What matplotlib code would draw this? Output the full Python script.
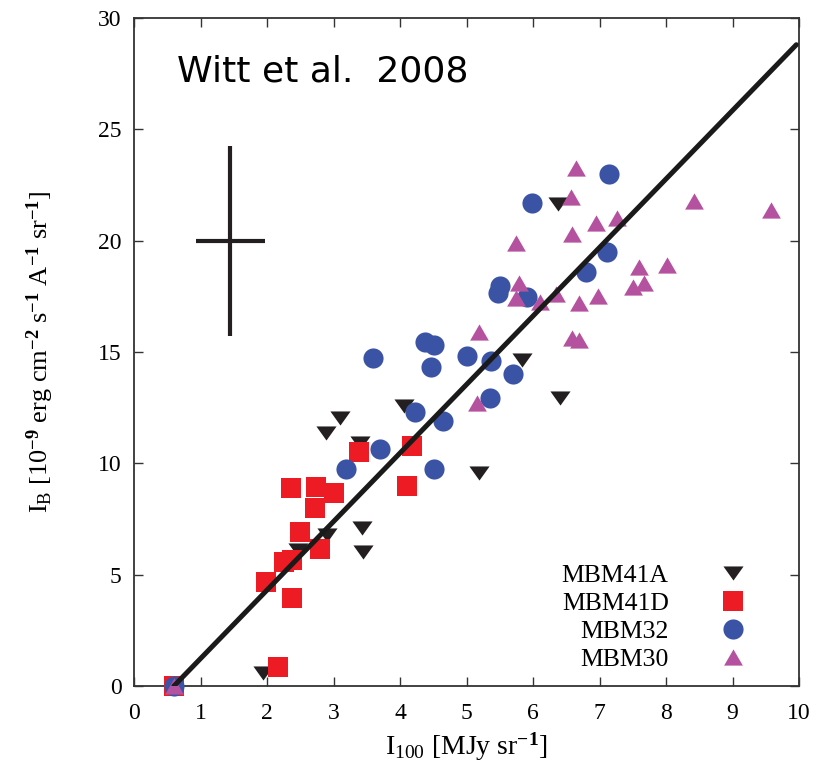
import matplotlib
matplotlib.use("Agg")
import matplotlib.pyplot as plt

# ---- data ----
mbm41a_x = [1.94, 2.47, 2.88, 2.90, 3.10, 3.40, 3.43, 3.45, 4.06, 5.19, 5.84, 6.40, 6.37]
mbm41a_y = [0.57, 6.10, 11.35, 6.78, 12.02, 10.90, 7.10, 6.00, 12.58, 9.58, 14.65, 12.92, 21.63]

mbm41d_x = [0.60, 1.98, 2.16, 2.25, 2.38, 2.38, 2.36, 2.49, 2.73, 2.72, 3.00, 2.80, 3.39, 4.11, 4.18]
mbm41d_y = [0.00, 4.66, 0.84, 5.58, 5.66, 3.94, 8.88, 6.93, 8.92, 8.00, 8.65, 6.14, 10.49, 8.97, 10.80]

mbm32_x = [0.60, 3.19, 3.59, 3.70, 4.22, 4.38, 4.51, 4.46, 4.51, 4.64, 5.01, 5.36, 5.37,
           5.70, 5.47, 5.50, 5.91, 5.98, 6.80, 7.11, 7.14]
mbm32_y = [0.00, 9.73, 14.71, 10.63, 12.32, 15.46, 15.31, 14.31, 9.73, 11.91, 14.82, 12.92, 14.59,
           14.01, 17.66, 17.96, 17.48, 21.70, 18.60, 19.50, 23.00]

mbm30_x = [0.60, 5.16, 5.19, 5.74, 5.79, 5.75, 6.11, 6.34, 6.57, 6.64, 6.59, 6.59, 6.69, 6.69,
           6.94, 6.98, 7.27, 7.50, 7.59, 7.67, 8.01, 8.42, 9.58]
mbm30_y = [0.00, 12.72, 15.91, 19.90, 18.10, 17.43, 17.26, 17.59, 21.97, 23.27, 20.30, 15.61, 15.52, 17.20,
           20.78, 17.51, 21.04, 17.92, 18.80, 18.08, 18.90, 21.79, 21.37]

fit_x = [0.60, 9.96]
fit_y = [0.00, 28.80]

err_x, err_y = [1.45], [20.0]
err_dx, err_dy = [0.52], [4.27]

x_ticks = list(range(0, 11))
y_ticks = [0, 5, 10, 15, 20, 25, 30]

labels = ["MBM41A", "MBM41D", "MBM32", "MBM30"]

# ---- style ----
plt.rcParams["font.family"] = ["Liberation Serif", "DejaVu Serif"]
plt.rcParams["mathtext.fontset"] = "custom"
plt.rcParams["mathtext.rm"] = "Liberation Serif"
plt.rcParams["mathtext.it"] = "Liberation Serif:italic"
plt.rcParams["mathtext.bf"] = "Liberation Serif:bold"

fig = plt.figure(figsize=(8.25, 7.74), dpi=100)
ax = fig.add_axes([134 / 825, 1 - 686 / 774, (799 - 134) / 825, (686 - 18) / 774])

c_black = "#231f20"
c_red = "#ed1c24"
c_blue = "#3a53a4"
c_purple = "#b5529f"

tri_down = [(-1, 0.7), (1, 0.7), (0, -0.7)]
tri_up = [(-1, -0.866), (1, -0.866), (0, 0.866)]

ax.plot(mbm41a_x, mbm41a_y, ls="none", marker=tri_down, ms=14.5, color=c_black, mew=0,
        label=labels[0], clip_on=False, zorder=3)
ax.plot(mbm41d_x, mbm41d_y, ls="none", marker="s", ms=14.5, color=c_red, mew=0,
        label=labels[1], clip_on=False, zorder=4)
ax.plot(mbm32_x, mbm32_y, ls="none", marker="o", ms=14.5, color=c_blue, mew=0,
        label=labels[2], clip_on=False, zorder=5)
ax.plot(mbm30_x, mbm30_y, ls="none", marker=tri_up, ms=13.5, color=c_purple, mew=0,
        label=labels[3], clip_on=False, zorder=6)

ax.plot(fit_x, fit_y, color="#1a1a1a", lw=3.6, solid_capstyle="round", zorder=7)

ax.errorbar(err_x, err_y, xerr=err_dx, yerr=err_dy, fmt="none", ecolor=c_black,
            elinewidth=3.0, capsize=0, zorder=7)

ax.text(0.65, 27.15, "Witt et al.  2008", family="DejaVu Sans", fontsize=26,
        ha="left", va="baseline", color="black")

ax.set_xlim(0, 10)
ax.set_ylim(0, 30)
ax.set_xticks(x_ticks)
ax.set_yticks(y_ticks)
ax.tick_params(direction="in", length=6.5, width=1.0, top=True, right=True,
               labelsize=17, color="#333333")
ax.tick_params(axis="x", pad=12)
ax.tick_params(axis="y", pad=9)
for s in ax.spines.values():
    s.set_linewidth(1.3)
    s.set_color("#333333")

ax.set_xlabel(r"I$_{100}$ [MJy sr$^{\mathbf{-1}}$]", fontsize=20, labelpad=5)
ax.set_ylabel(r"I$_{\rm B}$ [10$^{\mathbf{-9}}$ erg cm$^{\mathbf{-2}}$ s$^{\mathbf{-1}}$ A$^{\mathbf{-1}}$ sr$^{\mathbf{-1}}$]",
              fontsize=19, labelpad=30)

leg = ax.legend(loc="lower right", bbox_to_anchor=(0.92, 0.022), frameon=False,
                markerfirst=False, fontsize=18.5, handlelength=1.0, handletextpad=2.0,
                labelspacing=0.2, borderpad=0, borderaxespad=0)
for t in leg.get_texts():
    t.set_ha("right")

fig.savefig("out.png", dpi=100)
